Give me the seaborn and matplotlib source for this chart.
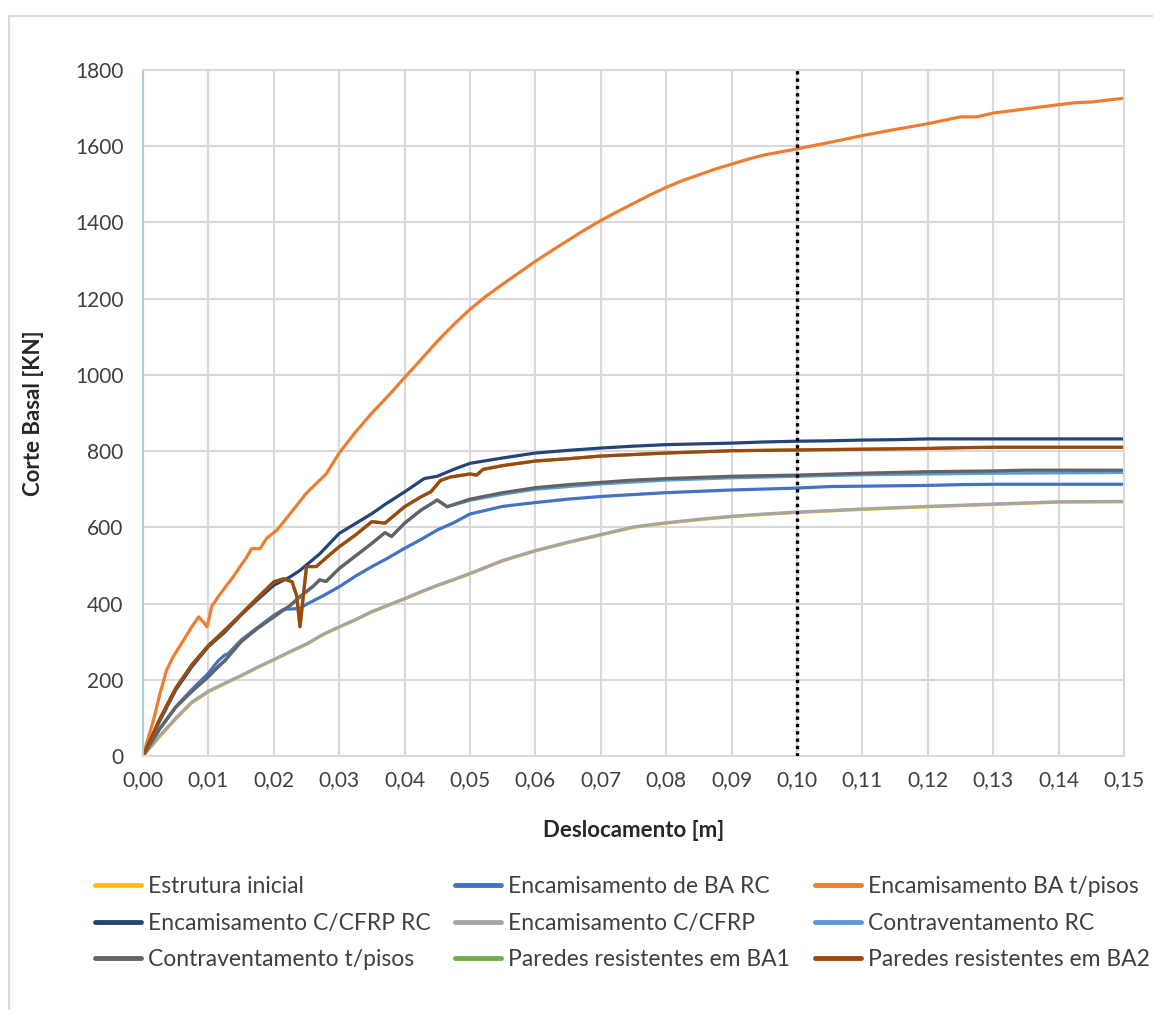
import matplotlib
matplotlib.use("Agg")
import matplotlib.pyplot as plt
from matplotlib.lines import Line2D
from matplotlib.patches import Rectangle
from matplotlib.ticker import FuncFormatter
import seaborn as sns
import pandas as pd

# ---- capacity curves: base shear [kN] vs roof displacement [m] ----
estrutura_x = [0, .0025, .005, .0075, .01, .0125, .015, .0175, .02, .0225, .025, .0275, .03, .0325,
               .035, .0375, .04, .0425, .045, .0475, .05, .0525, .055, .0575, .06, .065, .07, .075,
               .08, .085, .09, .095, .10, .11, .12, .13, .14, .15]
estrutura_y = [0, 50, 97, 140, 168, 190, 210, 232, 252, 273, 293, 318, 338, 357,
               378, 395, 412, 430, 447, 462, 478, 495, 512, 525, 538, 560, 580, 600,
               611, 620, 628, 634, 639, 647, 654, 660, 666, 667]

enc_ba_rc_x = [0, .0025, .005, .0075, .01, .0115, .0125, .013, .015, .0175, .02, .0215, .024, .025,
               .0275, .03, .0325, .035, .0375, .04, .0425, .045, .0475, .05, .055, .06, .065, .07,
               .075, .08, .09, .10, .105, .11, .12, .125, .13, .15]
enc_ba_rc_y = [0, 70, 129, 175, 217, 250, 265, 268, 304, 337, 369, 385, 387, 398,
               420, 444, 472, 497, 520, 545, 568, 593, 612, 635, 655, 665, 674, 681,
               686, 691, 698, 703, 707, 708, 710, 712, 713, 713]

enc_ba_tp_x = [0, .0016, .0026, .0036, .0046, .0062, .0075, .0085, .0093, .0098, .0105, .0115, .0128,
               .0138, .0148, .0158, .0166, .0179, .0189, .0205, .022, .025, .028, .03, .0325, .035,
               .0375, .04, .0425, .045, .0475, .05, .0525, .055, .0575, .06, .0625, .065, .0675, .07,
               .0725, .075, .0775, .08, .0825, .085, .0875, .09, .0925, .095, .0975, .10, .105, .11,
               .115, .12, .1225, .125, .1275, .13, .135, .14, .1425, .145, .1475, .15]
enc_ba_tp_y = [0, 94, 164, 225, 260, 304, 340, 365, 350, 339, 392, 418, 448,
               470, 496, 520, 544, 544, 571, 593, 625, 690, 740, 795, 850, 900,
               945, 993, 1040, 1088, 1132, 1172, 1207, 1238, 1268, 1298, 1326, 1353, 1380, 1405,
               1428, 1450, 1472, 1492, 1510, 1525, 1540, 1553, 1566, 1577, 1585, 1593, 1610, 1628,
               1644, 1659, 1668, 1677, 1677, 1687, 1698, 1709, 1714, 1716, 1721, 1726]

enc_cfrp_rc_x = [0, .0025, .005, .0075, .01, .0125, .015, .0175, .02, .0225, .024, .027, .03, .0325,
                 .035, .037, .04, .043, .045, .0475, .05, .055, .06, .065, .07, .075, .08, .085,
                 .09, .095, .10, .105, .11, .115, .12, .13, .14, .15]
enc_cfrp_rc_y = [0, 90, 173, 235, 287, 325, 370, 410, 448, 470, 487, 530, 584, 610,
                 636, 660, 693, 728, 734, 752, 768, 782, 795, 802, 808, 813, 817, 819,
                 821, 824, 826, 827, 829, 830, 832, 832, 832, 832]

enc_cfrp_x = [0, .0025, .005, .0075, .01, .0125, .015, .0175, .02, .0225, .025, .0275, .03, .0325,
              .035, .0375, .04, .0425, .045, .0475, .05, .0525, .055, .0575, .06, .065, .07, .075,
              .08, .085, .09, .095, .10, .11, .12, .13, .14, .15]
enc_cfrp_y = [0, 52, 99, 142, 170, 191, 211, 233, 253, 274, 294, 319, 339, 358,
              379, 396, 413, 431, 448, 463, 479, 496, 513, 526, 539, 561, 581, 601,
              612, 621, 629, 635, 640, 648, 655, 661, 667, 668]

contra_rc_x = [0, .0025, .005, .0075, .01, .0125, .015, .0175, .02, .0225, .024, .026, .027, .028, .03,
               .0325, .035, .037, .038, .04, .0425, .045, .0465, .05, .055, .06, .07, .08,
               .09, .10, .11, .12, .13, .14, .15]
contra_rc_y = [0, 70, 128, 170, 208, 250, 300, 335, 365, 395, 418, 445, 462, 458, 492,
               525, 558, 586, 576, 611, 645, 671, 654, 671, 687, 700, 714, 724,
               730, 734, 738, 740, 742, 743, 744]

contra_tp_x = [0, .0025, .005, .0075, .01, .0115, .0125, .015, .0175, .02, .0225, .024, .026, .027,
               .028, .03, .0325, .035, .037, .038, .04, .0425, .045, .0465, .05, .055, .06, .065,
               .07, .075, .08, .09, .10, .11, .12, .13, .135, .14, .15]
contra_tp_y = [0, 70, 128, 170, 208, 235, 250, 300, 335, 365, 395, 418, 445, 462,
               458, 492, 525, 558, 586, 576, 611, 645, 672, 654, 674, 691, 704, 712,
               718, 724, 728, 734, 737, 742, 746, 748, 750, 750, 750]

paredes1_x = [0, .0025, .005, .0075, .01, .0125, .015, .0175, .02, .0215, .0228, .0235, .024, .025,
              .0265, .028, .03, .0325, .035, .037, .04, .0425, .044, .0455, .047, .05, .051, .052,
              .055, .06, .065, .07, .075, .08, .09, .10, .11, .12, .125, .13, .15]
paredes1_y = [0, 95, 178, 240, 290, 330, 372, 415, 457, 465, 457, 420, 339, 497,
              497, 520, 549, 580, 615, 611, 654, 680, 693, 723, 732, 740, 737, 752,
              762, 774, 780, 787, 791, 795, 801, 803, 805, 807, 809, 810, 810]

paredes2_x = [0, .0025, .005, .0075, .01, .0125, .015, .0175, .02, .0215, .0228, .0235, .024, .025,
              .0265, .028, .03, .0325, .035, .037, .04, .0425, .044, .0455, .047, .05, .051, .052,
              .055, .06, .065, .07, .075, .08, .09, .10, .11, .12, .125, .13, .15]
paredes2_y = [0, 95, 178, 240, 290, 330, 372, 415, 457, 465, 457, 420, 339, 497,
              497, 520, 549, 580, 615, 611, 654, 680, 693, 723, 732, 740, 737, 752,
              762, 774, 780, 787, 791, 795, 801, 803, 805, 807, 809, 810, 810]

series_names = ["Estrutura inicial", "Encamisamento de BA RC", "Encamisamento BA t/pisos",
                "Encamisamento C/CFRP RC", "Encamisamento C/CFRP", "Contraventamento RC",
                "Contraventamento t/pisos", "Paredes resistentes em BA1", "Paredes resistentes em BA2"]
series_colors = ["#FFC000", "#4472C4", "#ED7D31", "#264478", "#A5A5A5",
                 "#5B9BD5", "#636363", "#70AD47", "#9E480E"]
series_data = [(estrutura_x, estrutura_y), (enc_ba_rc_x, enc_ba_rc_y), (enc_ba_tp_x, enc_ba_tp_y),
               (enc_cfrp_rc_x, enc_cfrp_rc_y), (enc_cfrp_x, enc_cfrp_y), (contra_rc_x, contra_rc_y),
               (contra_tp_x, contra_tp_y), (paredes1_x, paredes1_y), (paredes2_x, paredes2_y)]

target_disp = 0.10
x_ticks = [i / 100 for i in range(16)]
y_ticks = list(range(0, 2000, 200))

frames = []
for name, (xs, ys) in zip(series_names, series_data):
    frames.append(pd.DataFrame({"Deslocamento": xs, "Corte": ys, "Serie": name}))
df = pd.concat(frames, ignore_index=True)

sns.set_theme(style="white")
plt.rcParams["font.family"] = ["Lato", "DejaVu Sans"]

W, H = 1153, 1010
fig = plt.figure(figsize=(W / 100, H / 100), dpi=100)
ax = fig.add_axes([143 / W, 1 - 756 / H, (1124 - 143) / W, (756 - 70) / H])

palette = dict(zip(series_names, series_colors))
sns.lineplot(data=df, x="Deslocamento", y="Corte", hue="Serie", hue_order=series_names,
             palette=palette, sort=False, estimator=None, linewidth=2.3, legend=False, ax=ax)

# target displacement marker
ax.axvline(target_disp, color="black", linestyle=(0, (1, 1.2)), linewidth=2.4, zorder=5)

ax.set_xlim(0, 0.15)
ax.set_ylim(0, 1800)
ax.set_xticks(x_ticks)
ax.set_yticks(y_ticks)
ax.xaxis.set_major_formatter(FuncFormatter(lambda v, p: f"{v:.2f}".replace(".", ",")))
ax.grid(True, color="#D9D9D9", linewidth=1.5)
ax.set_axisbelow(True)
for side in ["top", "right"]:
    ax.spines[side].set_visible(True)
    ax.spines[side].set_color("#D9D9D9")
    ax.spines[side].set_linewidth(1.5)
ax.spines["bottom"].set_color("#D9D9D9")
ax.spines["bottom"].set_linewidth(1.5)
ax.spines["left"].set_color("#B4C7E7")
ax.spines["left"].set_linewidth(1.5)
ax.tick_params(axis="both", length=0, labelsize=15, colors="#404040", pad=10)
ax.tick_params(axis="y", pad=14)

ax.set_xlabel("Deslocamento [m]", fontsize=16, fontweight="bold", color="#262626", labelpad=22)
ax.set_ylabel("Corte Basal [KN]", fontsize=16, fontweight="bold", color="#262626", labelpad=22)

# legend laid out as three columns, filled row by row
handles = [Line2D([0], [0], color=c, linewidth=3.5) for c in series_colors]
col_left = [95, 455, 815]
for col in range(3):
    idx = [col, col + 3, col + 6]
    fig.legend([handles[i] for i in idx], [series_names[i] for i in idx],
               loc="upper left", bbox_to_anchor=(col_left[col] / W, 1 - 876 / H),
               frameon=False, fontsize=16.5, handlelength=2.0, handletextpad=0.3,
               borderpad=0, borderaxespad=0, labelspacing=0.68, labelcolor="#404040")

fig.add_artist(Rectangle((9 / W, -0.1), 1.2, 1 - 16 / H + 0.1, transform=fig.transFigure,
                         fill=False, edgecolor="#D9D9D9", linewidth=1.5))

fig.savefig("out.png", dpi=100, facecolor="white")
